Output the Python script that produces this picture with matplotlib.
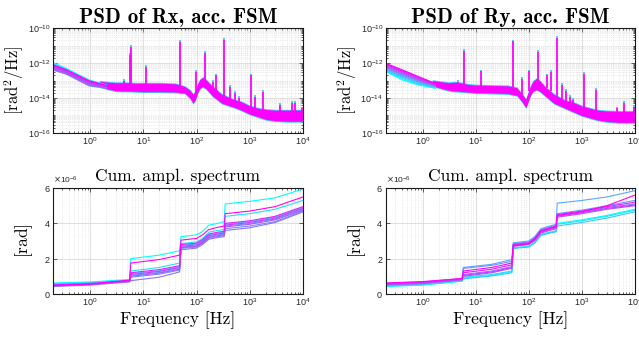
import numpy as np
import matplotlib
matplotlib.use('Agg')
import matplotlib.pyplot as plt
from matplotlib.ticker import LogLocator, NullFormatter, FixedLocator

plt.rcParams['font.family'] = 'Liberation Sans'

# ---------------- PSD data (rad^2/Hz) ----------------
# low frequency part: individual runs are distinguishable
rx_lf_f = [0.2, 0.36, 0.95, 2.0]
rx_lf_runs = [
    [1.05e-12, 4.8e-13, 1.07e-13, 5.6e-14],
    [9.0e-13, 4.3e-13, 1.0e-13, 5.4e-14],
    [6.5e-13, 3.3e-13, 8.0e-14, 4.8e-14],
    [5.5e-13, 2.8e-13, 6.5e-14, 4.2e-14],
    [4.5e-13, 2.4e-13, 5.5e-14, 3.8e-14],
    [4.0e-13, 2.3e-13, 5.0e-14, 3.6e-14],
    [5.0e-13, 2.6e-13, 6.0e-14, 4.0e-14],
    [6.0e-13, 3.0e-13, 7.2e-14, 4.5e-14],
    [7.2e-13, 3.6e-13, 8.5e-14, 5.0e-14],
    [8.0e-13, 4.0e-13, 9.5e-14, 5.2e-14],
]
ry_lf_f = [0.2, 0.42, 0.85, 1.7]
ry_lf_runs = [
    [3.2e-13, 1.05e-13, 5.5e-14, 3.6e-14],
    [3.6e-13, 1.25e-13, 6.2e-14, 4.0e-14],
    [4.0e-13, 1.5e-13, 7.0e-14, 4.2e-14],
    [4.6e-13, 1.7e-13, 8.0e-14, 4.6e-14],
    [5.2e-13, 2.0e-13, 9.0e-14, 5.0e-14],
    [5.8e-13, 2.3e-13, 1.0e-13, 5.2e-14],
    [6.5e-13, 2.6e-13, 1.1e-13, 5.5e-14],
    [7.5e-13, 3.0e-13, 1.25e-13, 6.0e-14],
    [8.5e-13, 3.4e-13, 1.4e-13, 6.3e-14],
    [9.5e-13, 3.9e-13, 1.6e-13, 6.8e-14],
]

# noisy band (lower / upper envelope of all runs)
rx_band_f = [1.5, 2.2, 3, 4, 5, 7, 10, 20, 40, 60, 75, 86, 95, 105, 115, 130,
             150, 200, 300, 500, 700, 1000, 1500, 2000, 3000, 5000, 10000]
rx_band_lo = [4.5e-14, 3.2e-14, 2.6e-14, 2.5e-14, 2.5e-14, 2.4e-14, 2.3e-14,
              2.3e-14, 2.2e-14, 1.9e-14, 1.0e-14, 5e-15, 8e-15, 2e-14, 3.5e-14,
              4.5e-14, 3.5e-14, 1.3e-14, 5e-15, 3e-15, 2e-15, 1.2e-15, 8e-16,
              6e-16, 5e-16, 4.6e-16, 4.6e-16]
rx_band_hi = [9e-14, 8e-14, 7.5e-14, 7.5e-14, 7.5e-14, 7e-14, 7e-14, 7e-14,
              6.5e-14, 4.5e-14, 2.8e-14, 1.6e-14, 2.6e-14, 6.5e-14, 1.1e-13,
              1.5e-13, 1.1e-13, 4.5e-14, 1.6e-14, 8e-15, 6e-15, 3.5e-15,
              2.5e-15, 2.2e-15, 2e-15, 2e-15, 2e-15]
ry_band_f = [1.5, 2.2, 3, 4, 5, 7, 10, 20, 40, 60, 75, 88, 95, 105, 120, 140,
             160, 200, 300, 500, 700, 1000, 1500, 2000, 3000, 5000, 10000]
ry_band_lo = [5e-14, 3.6e-14, 2.8e-14, 2.5e-14, 2.4e-14, 2.2e-14, 2e-14,
              1.9e-14, 1.8e-14, 1.4e-14, 6e-15, 2.8e-15, 5e-15, 1.2e-14,
              2.5e-14, 3e-14, 2.5e-14, 1.4e-14, 5e-15, 2.5e-15, 1.6e-15, 1e-15,
              7e-16, 5.5e-16, 4.5e-16, 4e-16, 4e-16]
ry_band_hi = [1e-13, 8.5e-14, 7.5e-14, 8e-14, 7.5e-14, 6e-14, 5.5e-14, 5.2e-14,
              5e-14, 3.8e-14, 1.6e-14, 8.5e-15, 1.6e-14, 4e-14, 9e-14, 1.3e-13,
              1e-13, 4.6e-14, 1.6e-14, 7e-15, 5.5e-15, 3.5e-15, 2.5e-15,
              2e-15, 1.8e-15, 1.7e-15, 1.7e-15]

# spikes: frequency, base, top
rx_spike_f = [4.3, 5.6, 5.8, 11.1, 49.5, 97, 147, 205, 235, 330, 430, 520,
              625, 1080, 1240, 1780, 3770, 6200, 7000, 9500]
rx_spike_base = [5e-14, 5e-14, 5e-14, 4.5e-14, 4e-14, 1.5e-14, 7e-14, 3e-14,
                 2.5e-14, 1e-14, 6e-15, 4.5e-15, 3.5e-15, 1.6e-15, 1.4e-15,
                 1.2e-15, 1e-15, 1e-15, 1e-15, 1e-15]
rx_spike_top = [1e-13, 3e-12, 8.8e-12, 5.9e-13, 1.7e-11, 3e-13, 3.7e-12,
                8.5e-14, 2e-13, 2.1e-11, 4.4e-14, 1.9e-14, 1e-14, 2e-13,
                1.2e-14, 2.3e-14, 3.9e-15, 5.5e-15, 5.5e-15, 2.5e-15]
ry_spike_f = [4.6, 6.0, 12.3, 51, 74, 100, 150, 220, 260, 340, 430, 500, 600,
              700, 1120, 1860, 4600, 6300, 9800]
ry_spike_base = [5.5e-14, 5e-14, 4e-14, 3.5e-14, 1.2e-14, 2.5e-14, 8e-14,
                 3.5e-14, 2.5e-14, 1e-14, 6e-15, 4.5e-15, 3.5e-15, 3e-15,
                 1.8e-15, 1.2e-15, 9e-16, 9e-16, 9e-16]
ry_spike_top = [8.5e-14, 5.2e-12, 3.4e-13, 1.75e-11, 1.3e-13, 3.3e-13,
                4.2e-12, 2e-13, 3e-13, 2.7e-11, 5.5e-14, 2.5e-14, 1.2e-14,
                8e-15, 2.5e-13, 3e-14, 2.5e-15, 5.5e-15, 3e-15]

# ---------------- cumulative amplitude spectrum (x1e-6 rad) ----------------
cas_f = [0.2, 1, 5.5, 5.8, 20, 48, 51, 100, 130, 170, 250, 330, 345, 1000, 3000, 10000]
rx_cas = [
    [0.62, 0.68, 0.82, 2.0, 2.2, 2.45, 3.25, 3.35, 3.55, 3.9, 4.0, 4.1, 5.1, 5.25, 5.45, 5.95],
    [0.58, 0.64, 0.78, 1.3, 1.5, 1.75, 2.85, 2.95, 3.15, 3.5, 3.6, 3.65, 4.4, 4.55, 4.8, 5.3],
    [0.55, 0.62, 0.76, 1.15, 1.32, 1.55, 2.75, 2.83, 3.03, 3.35, 3.45, 3.5, 3.95, 4.1, 4.35, 4.9],
    [0.52, 0.6, 0.73, 1.05, 1.22, 1.45, 2.65, 2.73, 2.93, 3.25, 3.35, 3.4, 3.85, 4.0, 4.25, 4.8],
    [0.5, 0.57, 0.7, 0.95, 1.12, 1.35, 2.58, 2.66, 2.86, 3.15, 3.25, 3.3, 3.7, 3.85, 4.1, 4.7],
    [0.42, 0.5, 0.68, 0.75, 0.95, 1.25, 2.5, 2.6, 2.8, 3.1, 3.2, 3.25, 3.6, 3.75, 4.05, 4.65],
    [0.45, 0.53, 0.72, 1.0, 1.18, 1.4, 2.62, 2.7, 2.9, 3.2, 3.3, 3.35, 3.8, 3.95, 4.2, 4.75],
    [0.47, 0.55, 0.74, 1.1, 1.28, 1.5, 2.7, 2.78, 2.98, 3.3, 3.4, 3.45, 3.9, 4.05, 4.3, 4.85],
    [0.48, 0.55, 0.75, 1.2, 1.38, 1.6, 2.8, 2.88, 3.08, 3.4, 3.5, 3.55, 4.0, 4.15, 4.4, 4.95],
    [0.5, 0.58, 0.78, 1.75, 1.95, 2.2, 3.05, 3.15, 3.35, 3.65, 3.78, 3.85, 4.55, 4.7, 4.95, 5.5],
]
ry_cas = [
    [0.42, 0.5, 0.72, 0.9, 1.05, 1.25, 2.6, 2.68, 2.9, 3.35, 3.48, 3.55, 4.0, 4.2, 4.45, 4.8],
    [0.45, 0.52, 0.74, 0.95, 1.1, 1.3, 2.62, 2.7, 2.92, 3.38, 3.5, 3.58, 3.95, 4.15, 4.4, 4.75],
    [0.48, 0.55, 0.76, 0.85, 1.02, 1.2, 2.58, 2.66, 2.88, 3.32, 3.45, 3.52, 3.85, 4.05, 4.3, 4.65],
    [0.5, 0.58, 0.8, 1.5, 1.68, 1.95, 2.9, 3.0, 3.25, 3.7, 3.85, 3.95, 5.15, 5.3, 5.5, 5.85],
    [0.55, 0.62, 0.85, 1.45, 1.62, 1.85, 2.85, 2.95, 3.2, 3.65, 3.8, 3.9, 4.55, 4.75, 5.0, 5.3],
    [0.53, 0.6, 0.83, 1.1, 1.3, 1.55, 2.78, 2.88, 3.12, 3.55, 3.7, 3.8, 4.45, 4.65, 4.9, 5.1],
    [0.52, 0.6, 0.8, 1.0, 1.2, 1.45, 2.7, 2.8, 3.03, 3.45, 3.6, 3.7, 4.35, 4.55, 4.8, 5.0],
    [0.58, 0.65, 0.84, 1.05, 1.25, 1.5, 2.72, 2.82, 3.05, 3.5, 3.65, 3.75, 4.4, 4.6, 4.85, 5.05],
    [0.6, 0.68, 0.86, 1.2, 1.4, 1.65, 2.8, 2.9, 3.15, 3.6, 3.75, 3.85, 4.5, 4.7, 4.95, 5.2],
    [0.62, 0.7, 0.88, 1.3, 1.5, 1.75, 2.75, 2.85, 3.1, 3.55, 3.72, 3.8, 4.45, 4.65, 5.0, 5.6],
]

colors = plt.cm.cool(np.linspace(0, 1, 10))
TXT = '#262626'
MAG = '#ff00ff'
FRINGE = '#40c8ff'


def style_axes(ax, logy):
    ax.set_xscale('log')
    ax.set_xlim(0.2, 1e4)
    ax.xaxis.set_major_locator(FixedLocator([1, 10, 100, 1000, 10000]))
    ax.xaxis.set_minor_locator(LogLocator(base=10, subs=np.arange(2, 10), numticks=20))
    ax.xaxis.set_minor_formatter(NullFormatter())
    ax.tick_params(which='both', direction='in', top=True, right=True,
                   labelsize=6.5, colors=TXT, pad=2, width=0.5)
    ax.tick_params(which='major', length=3)
    ax.tick_params(which='minor', length=1.6)
    ax.grid(True, which='major', color='#d9d9d9', lw=0.6)
    ax.grid(True, which='minor', axis='x', color='#d9d9d9', lw=0.5, ls=':')
    if logy:
        ax.grid(True, which='minor', axis='y', color='#d9d9d9', lw=0.5, ls=':')
    for s in ax.spines.values():
        s.set_linewidth(0.8)
        s.set_color('#1a1a1a')
    ax.set_axisbelow(True)


def plot_psd(ax, title, lf_f, lf_runs, bf, blo, bhi, sf, sbase, stop):
    style_axes(ax, True)
    ax.set_yscale('log')
    ax.set_ylim(1e-16, 1e-10)
    ax.yaxis.set_major_locator(FixedLocator([1e-16, 1e-14, 1e-12, 1e-10]))
    ax.yaxis.set_minor_locator(LogLocator(base=10, subs=np.arange(1, 10), numticks=20))
    ax.yaxis.set_minor_formatter(NullFormatter())
    for i, run in enumerate(lf_runs):
        ax.plot(lf_f, run, color=colors[i], lw=0.9)
    # thin cyan/blue fringe around the magenta noise band
    ax.fill_between(bf, np.array(blo) / 1.12, np.array(bhi) * 1.12, color=FRINGE, lw=0)
    ax.fill_between(bf, blo, bhi, color=MAG, lw=0)
    # spikes: cyan tip, magenta body
    ax.vlines(sf, stop, np.array(stop) * 1.25, color=FRINGE, lw=1.3)
    ax.vlines(sf, sbase, stop, color=MAG, lw=1.3)
    ax.set_title(title, family='cmb10', fontsize=15, pad=4)
    ax.set_ylabel(r'$[\mathrm{rad}^2/\mathrm{Hz}]$', math_fontfamily='cm',
                  fontsize=12, labelpad=1)


def plot_cas(ax, runs):
    style_axes(ax, False)
    for i, run in enumerate(runs):
        ax.plot(cas_f, np.array(run) * 1e-6, color=colors[i], lw=0.8)
    ax.set_ylim(0, 6e-6)
    ax.set_yticks([0, 2e-6, 4e-6, 6e-6])
    ax.ticklabel_format(axis='y', style='sci', scilimits=(0, 0), useMathText=True)
    ax.yaxis.get_offset_text().set_fontsize(6)
    ax.yaxis.get_offset_text().set_color(TXT)
    ax.set_title('Cum. ampl. spectrum', family='cmr10', fontsize=12.5, pad=5)
    ax.set_ylabel(r'$[\mathrm{rad}]$', math_fontfamily='cm', fontsize=12.5, labelpad=6)
    ax.set_xlabel('Frequency [Hz]', family='cmr10', fontsize=12.5, labelpad=2)


fig = plt.figure(figsize=(6.39, 3.39), dpi=100)
ax1 = fig.add_axes([0.083, 0.608, 0.391, 0.309])
ax2 = fig.add_axes([0.604, 0.608, 0.389, 0.309])
ax3 = fig.add_axes([0.083, 0.133, 0.391, 0.312])
ax4 = fig.add_axes([0.604, 0.133, 0.389, 0.312])

plot_psd(ax1, 'PSD of Rx, acc. FSM', rx_lf_f, rx_lf_runs, rx_band_f, rx_band_lo,
         rx_band_hi, rx_spike_f, rx_spike_base, rx_spike_top)
plot_psd(ax2, 'PSD of Ry, acc. FSM', ry_lf_f, ry_lf_runs, ry_band_f, ry_band_lo,
         ry_band_hi, ry_spike_f, ry_spike_base, ry_spike_top)
plot_cas(ax3, rx_cas)
plot_cas(ax4, ry_cas)

fig.savefig('out.png', dpi=100)
